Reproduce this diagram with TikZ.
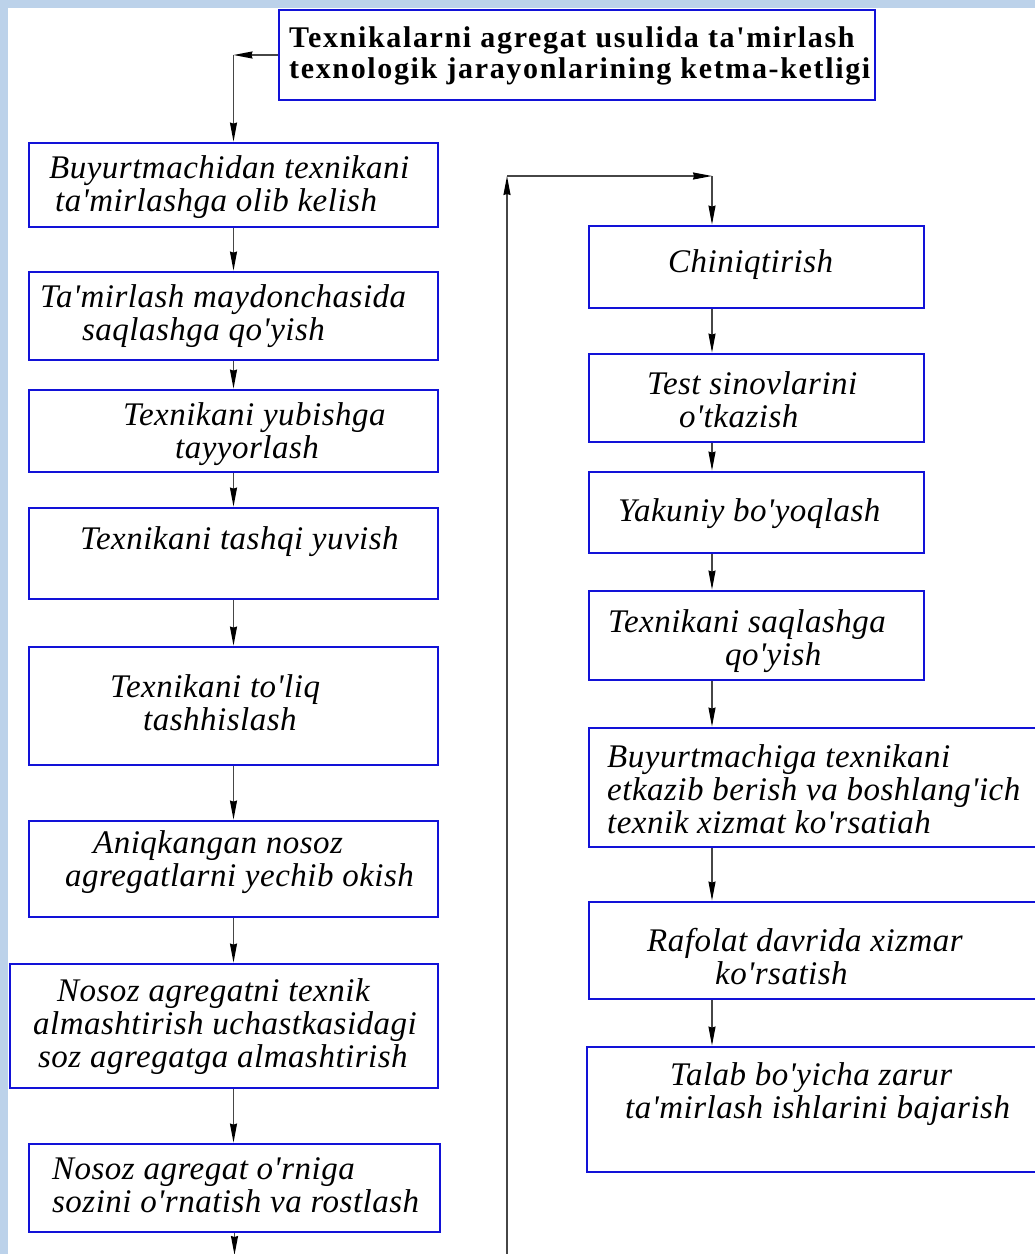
\documentclass[tikz,border=0pt]{standalone}
\usepackage{fontspec}
\setmainfont{Liberation Serif}
\newfontfamily\boxfont[LetterSpace=1.5]{Liberation Serif}
\newfontfamily\headfont[LetterSpace=5.5]{Liberation Serif}
\usetikzlibrary{arrows.meta}

\definecolor{boxblue}{RGB}{18,18,215}
\definecolor{linegray}{RGB}{70,70,70}
\definecolor{bgblue}{RGB}{188,210,234}

\tikzset{
  box/.style={draw=boxblue, line width=2.8bp, inner sep=0pt, fill=white},
  txt/.style={font=\boxfont\itshape\fontsize{33bp}{33bp}\selectfont, align=left, anchor=west, inner sep=0pt},
  head/.style={font=\headfont\bfseries\fontsize{30bp}{31bp}\selectfont, align=left, anchor=west, inner sep=0pt},
  arr/.style={draw=linegray, line width=1.3bp, -{Stealth[length=19bp,width=7bp,inset=1bp,color=black]}}
}

\begin{document}
\begin{tikzpicture}[x=1bp, y=-1bp]
	\useasboundingbox (0,0) rectangle (1035,1254);
	% Background
	\fill[bgblue] (0,0) rectangle (1035,1254);
	\fill[white] (8,8) rectangle (1035,1254);
	\clip (0,0) rectangle (1035,1254);
	
	% Title
	\node[box, minimum width=596bp, minimum height=90bp] (title) at (577,55) {};
	\node[head] (t0) at (289,56) {Texnikalarni agregat usulida ta'mirlash\\texnologik jarayonlarining ketma-ketligi};
	
	% Left column
	\node[box, minimum width=409bp, minimum height=84bp] (b1) at (233.5,185) {};
	\node[box, minimum width=409bp, minimum height=88bp] (b2) at (233.5,316) {};
	\node[box, minimum width=409bp, minimum height=82bp] (b3) at (233.5,431) {};
	\node[box, minimum width=409bp, minimum height=91bp] (b4) at (233.5,553.5) {};
	\node[box, minimum width=409bp, minimum height=118bp] (b5) at (233.5,706) {};
	\node[box, minimum width=409bp, minimum height=96bp] (b6) at (233.5,869) {};
	\node[box, minimum width=428bp, minimum height=124bp] (b7) at (224,1026) {};
	\node[box, minimum width=411bp, minimum height=88bp] (b8) at (234.5,1188) {};
	
	\node[txt] (t1) at (49,187) {Buyurtmachidan texnikani\\\hspace*{6bp}ta'mirlashga olib kelish};
	\node[txt] (t2) at (40,316) {Ta'mirlash maydonchasida\\\hspace*{42bp}saqlashga qo'yish};
	\node[txt] (t3) at (123,434) {Texnikani yubishga\\\hspace*{52bp}tayyorlash};
	\node[txt] (t4) at (80,542) {Texnikani tashqi yuvish};
	\node[txt] (t5) at (110,703) {Texnikani to'liq\\\hspace*{33bp}tashhislash};
	\node[txt] (t6) at (65,862) {\hspace*{28bp}Aniqkangan nosoz\\agregatlarni yechib okish};
	\node[txt] (t7) at (33,1027) {\hspace*{24bp}Nosoz agregatni texnik\\almashtirish uchastkasidagi\\\hspace*{5bp}soz agregatga almashtirish};
	\node[txt] (t8) at (52,1185) {Nosoz agregat o'rniga\\sozini o'rnatish va rostlash};
	
	% Right column
	\node[box, minimum width=335bp, minimum height=82bp] (r1) at (756.5,267) {};
	\node[box, minimum width=335bp, minimum height=88bp] (r2) at (756.5,398) {};
	\node[box, minimum width=335bp, minimum height=81bp] (r3) at (756.5,512.5) {};
	\node[box, minimum width=335bp, minimum height=89bp] (r4) at (756.5,635.5) {};
	\node[box, minimum width=471bp, minimum height=119bp] (r5) at (824.5,787.5) {};
	\node[box, minimum width=471bp, minimum height=97bp] (r6) at (824.5,950.5) {};
	\node[box, minimum width=473bp, minimum height=125bp] (r7) at (823.5,1109.5) {};
	
	\node[txt] (u1) at (668,265) {Chiniqtirish};
	\node[txt] (u2) at (647,400) {Test sinovlarini\\\hspace*{32bp}o'tkazish};
	\node[txt] (u3) at (618,514) {Yakuniy bo'yoqlash};
	\node[txt] (u4) at (608,641) {Texnikani saqlashga\\\hspace*{117bp}qo'yish};
	\node[txt] (u5) at (607,789) {Buyurtmachiga texnikani\\etkazib berish va boshlang'ich\\texnik xizmat ko'rsatiah};
	\node[txt] (u6) at (647,957) {Rafolat davrida xizmar\\\hspace*{68bp}ko'rsatish};
	\node[txt] (u7) at (625,1094) {\hspace*{45bp}Talab bo'yicha zarur\\ta'mirlash ishlarini bajarish};
	
	% Connectors, left
	\coordinate (tcorner) at (b1.north |- title.west);
	\draw[arr] (title.west) -- (tcorner);
	\draw[arr] (tcorner) -- (b1.north);
	\draw[arr] (b1.south) -- (b1.south |- b2.north);
	\draw[arr] (b2.south) -- (b2.south |- b3.north);
	\draw[arr] (b3.south) -- (b3.south |- b4.north);
	\draw[arr] (b4.south) -- (b4.south |- b5.north);
	\draw[arr] (b5.south) -- (b5.south |- b6.north);
	\draw[arr] (b6.south) -- (b6.south |- b7.north);
	\draw[arr] (b7.south -| b6.south) -- (b6.south |- b8.north);
	\coordinate (down) at (b8.south |- 0,1255);
	\draw[arr] (b8.south) -- (down);
	
	% Return line, right
	\coordinate (loopbot) at (507,1256);
	\coordinate (looptop) at (507,176);
	\coordinate (loopend) at (712,176);
	\draw[arr] (loopbot) -- (looptop);
	\draw[arr] (looptop) -- (loopend);
	\draw[arr] (loopend) -- (loopend |- r1.north);
	\draw[arr] (r1.south -| loopend) -- (r2.north -| loopend);
	\draw[arr] (r2.south -| loopend) -- (r3.north -| loopend);
	\draw[arr] (r3.south -| loopend) -- (r4.north -| loopend);
	\draw[arr] (r4.south -| loopend) -- (r5.north -| loopend);
	\draw[arr] (r5.south -| loopend) -- (r6.north -| loopend);
	\draw[arr] (r6.south -| loopend) -- (r7.north -| loopend);
\end{tikzpicture}
\end{document}
